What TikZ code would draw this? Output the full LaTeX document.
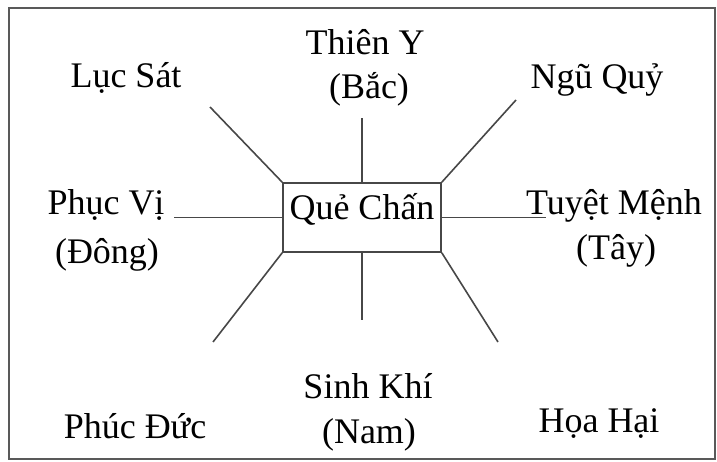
\documentclass[tikz,border=0pt]{standalone}
\usepackage{fontspec}
\setmainfont{Liberation Serif}
\begin{document}
\begin{tikzpicture}[x=1pt,y=-1pt,
  lbl/.style={anchor=base,inner sep=0pt,font=\fontsize{36}{44}\selectfont},
  ray/.style={line width=1.6pt,draw=black!72},
  frame/.style={line width=1.6pt,draw=black!65}]
\useasboundingbox (0,0) rectangle (717,462);
\draw[frame] (9,8) rectangle (715,459);
\node[draw=black!72,line width=1.6pt,minimum width=158pt,minimum height=69pt,inner sep=0pt,
  text height=20pt,text depth=15pt,font=\fontsize{36}{44}\selectfont] (que) at (362,217.5) {Quẻ Chấn};
\node[lbl] (lucsat) at (126,88) {Lục Sát};
\node[lbl] (thieny) at (365,55) {Thiên Y};
\node[lbl] (bac) at (369,99) {(Bắc)};
\node[lbl] (nguquy) at (597,89) {Ngũ Quỷ};
\node[lbl] (phucvi) at (106,215) {Phục Vị};
\node[lbl] (dong) at (107,263) {(Đông)};
\node[lbl] (tuyetmenh) at (614,215) {Tuyệt Mệnh};
\node[lbl] (tay) at (616,260) {(Tây)};
\node[lbl] (sinhkhi) at (368,398) {Sinh Khí};
\node[lbl] (nam) at (369,443) {(Nam)};
\node[lbl] (phucduc) at (135,438) {Phúc Đức};
\node[lbl] (hoahai) at (599,432) {Họa Hại};
\coordinate (enw) at (210,107);
\coordinate (en) at (362,118);
\coordinate (ene) at (516,100);
\coordinate (ew) at (174,217.5);
\coordinate (ee) at (546,217.5);
\coordinate (esw) at (213,342);
\coordinate (es) at (362,320);
\coordinate (ese) at (498,342);
\draw[ray] (que.north west) -- (enw);
\draw[ray] (que.north) -- (en);
\draw[ray] (que.north east) -- (ene);
\draw[ray] (que.west) -- (ew);
\draw[ray] (que.east) -- (ee);
\draw[ray] (que.south west) -- (esw);
\draw[ray] (que.south) -- (es);
\draw[ray] (que.south east) -- (ese);
\end{tikzpicture}
\end{document}
